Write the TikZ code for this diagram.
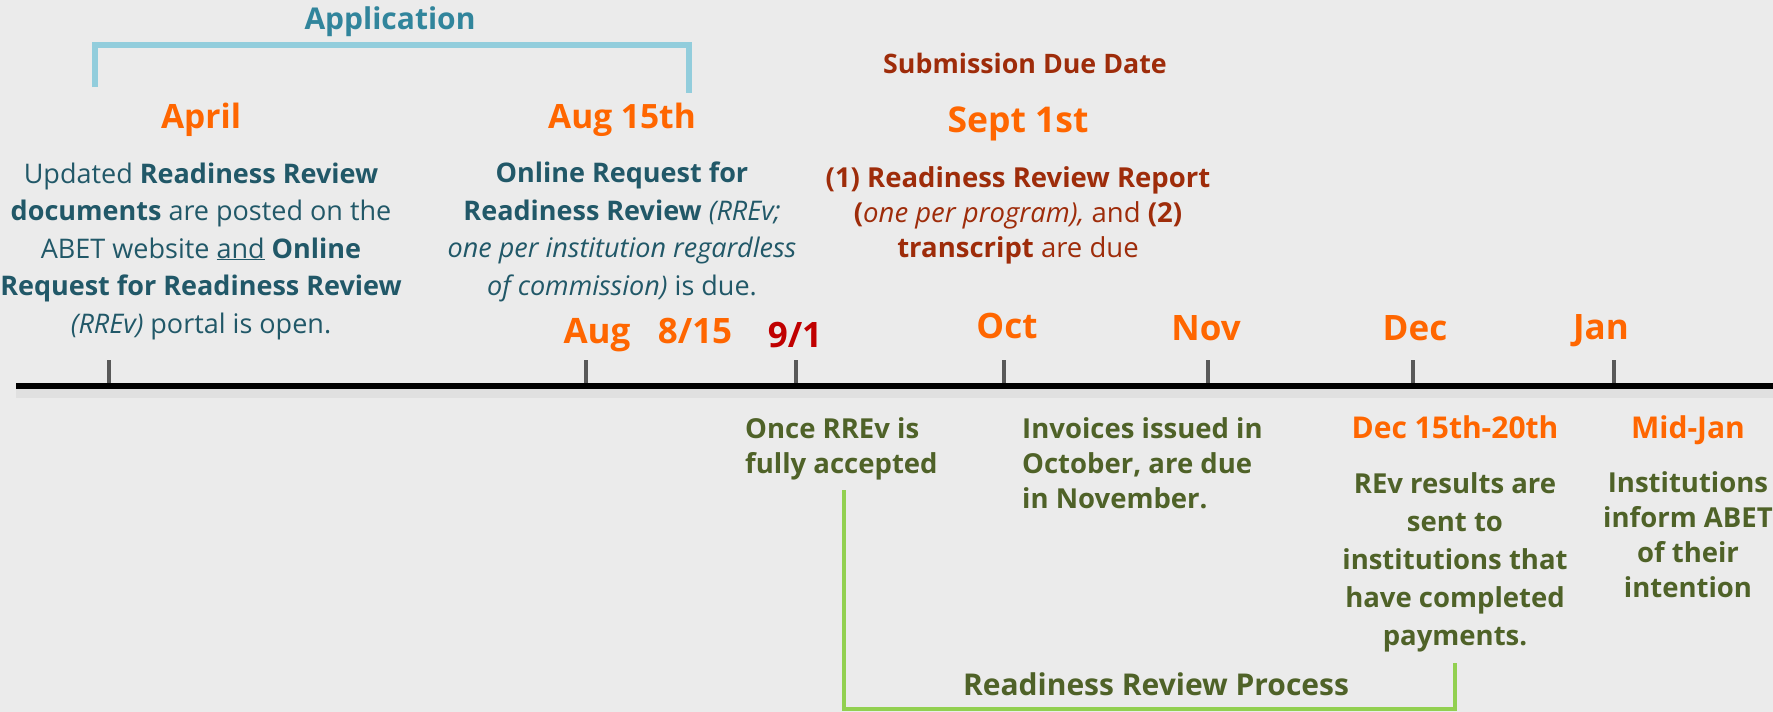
\documentclass[tikz,border=0pt]{standalone}
\usepackage{fontspec}
\setmainfont{Open Sans}

\definecolor{bgray}{RGB}{235,235,235}
\definecolor{orng}{RGB}{255,102,0}
\definecolor{deepred}{RGB}{192,0,0}
\definecolor{tealtxt}{RGB}{33,88,104}
\definecolor{tealhead}{RGB}{49,133,156}
\definecolor{skyline}{RGB}{146,205,220}
\definecolor{rusttxt}{RGB}{158,44,10}
\definecolor{olivetxt}{RGB}{79,98,40}
\definecolor{limeline}{RGB}{146,208,80}
\definecolor{tickgray}{RGB}{89,89,89}

\begin{document}
\begin{tikzpicture}[x=1pt, y=-1pt,
  month/.style={font=\bfseries\fontsize{35}{40}\selectfont, text=orng,
                anchor=base, inner sep=0pt},
  datehead/.style={font=\bfseries\fontsize{33.5}{40}\selectfont, text=orng,
                   anchor=base, inner sep=0pt},
  tealtext/.style={font=\fontsize{27}{37.5}\selectfont, text=tealtxt,
                   align=center, anchor=base, inner sep=0pt},
  rusttext/.style={font=\fontsize{27.5}{35}\selectfont, text=rusttxt,
                   align=center, anchor=base, inner sep=0pt},
  olivetext/.style={font=\bfseries\fontsize{27.5}{35}\selectfont, text=olivetxt,
                    anchor=base, inner sep=0pt},
  tickmark/.style={draw=tickgray, line width=4.5pt},
  skybrace/.style={draw=skyline, line width=5.5pt},
  limebrace/.style={draw=limeline, line width=4.5pt}]

  \useasboundingbox (0,0) rectangle (1773,712);
  \fill[bgray] (0,0) rectangle (1773,712);

  % application window
  \draw[skybrace] (95,87) -- (95,45) -- (689,45) -- (689,93);
  \node[font=\bfseries\fontsize{30}{36}\selectfont, text=tealhead,
        anchor=base, inner sep=0pt] (apphead) at (390,29) {Application};

  % multi-line blocks sit on the baseline of their last line
  \node[datehead] (april) at (201,128) {April};
  \node[datehead] (aug15) at (622,128) {Aug 15th};
  \node[tealtext] (apriltxt) at (201,333)
    {Updated \textbf{Readiness Review}\\
     \textbf{documents} are posted on the\\
     ABET website \underline{and} \textbf{Online}\\
     \textbf{Request for Readiness Review}\\
     \textit{(RREv)} portal is open.};
  \node[tealtext] (aug15txt) at (622,295)
    {\textbf{Online Request for}\\
     \textbf{Readiness Review} \textit{(RREv;}\\
     \textit{one per institution regardless}\\
     \textit{of commission)} is due.};

  % submission deadline
  \node[font=\bfseries\fontsize{26.8}{34}\selectfont, text=rusttxt,
        anchor=base, inner sep=0pt] (subhead) at (1025,73) {Submission Due Date};
  \node[font=\bfseries\fontsize{35.5}{40}\selectfont, text=orng,
        anchor=base, inner sep=0pt] (sept1) at (1018,132) {Sept 1st};
  \node[rusttext] (sept1txt) at (1018,257)
    {\textbf{(1) Readiness Review Report}\\
     \textbf{(}\textit{one per program),} and \textbf{(2)}\\
     \textbf{transcript} are due};

  % the time axis
  \coordinate (tlstart) at (16,386);
  \coordinate (tlend) at (1773,386);
  \foreach \k in {1,...,9}
    \draw[black, opacity=0.045, line width=1pt] (16,388+\k) -- (1773,388+\k);
  \foreach \tx in {109,586,796,1004,1208,1413,1614}
    \draw[tickmark] (\tx,360) -- (\tx,385);
  \draw[line width=5.5pt] (tlstart) -- (tlend);

  \node[month] (maug) at (597,343) {Aug};
  \node[month] (m815) at (695,343) {8/15};
  \node[month, text=deepred] (m91) at (795,347) {9/1};
  \node[month] (moct) at (1007,338) {Oct};
  \node[month] (mnov) at (1206,340) {Nov};
  \node[month] (mdec) at (1415,340) {Dec};
  \node[month] (mjan) at (1601,339) {Jan};

  % below the axis
  \node[olivetext, align=left, anchor=base west] (accepted) at (745,473)
    {Once RREv is\\fully accepted};
  \node[olivetext, align=left, anchor=base west] (invoices) at (1022,508)
    {Invoices issued in\\October, are due\\in November.};
  \node[month, font=\bfseries\fontsize{30}{36}\selectfont] (dec1520) at (1455,438)
    {Dec 15th-20th};
  \node[olivetext, align=center, font=\bfseries\fontsize{27.5}{38}\selectfont]
    (results) at (1455,645)
    {REv results are\\sent to\\institutions that\\have completed\\payments.};
  \node[month, font=\bfseries\fontsize{30}{36}\selectfont] (midjan) at (1688,438)
    {Mid-Jan};
  \node[olivetext, align=center] (intent) at (1688,597)
    {Institutions\\inform ABET\\of their\\intention};

  % review window
  \draw[limebrace] (844,490) -- (844,709) -- (1455,709) -- (1455,663);
  \node[olivetext, font=\bfseries\fontsize{30}{36}\selectfont] (process) at (1156,695)
    {Readiness Review Process};
\end{tikzpicture}
\end{document}
